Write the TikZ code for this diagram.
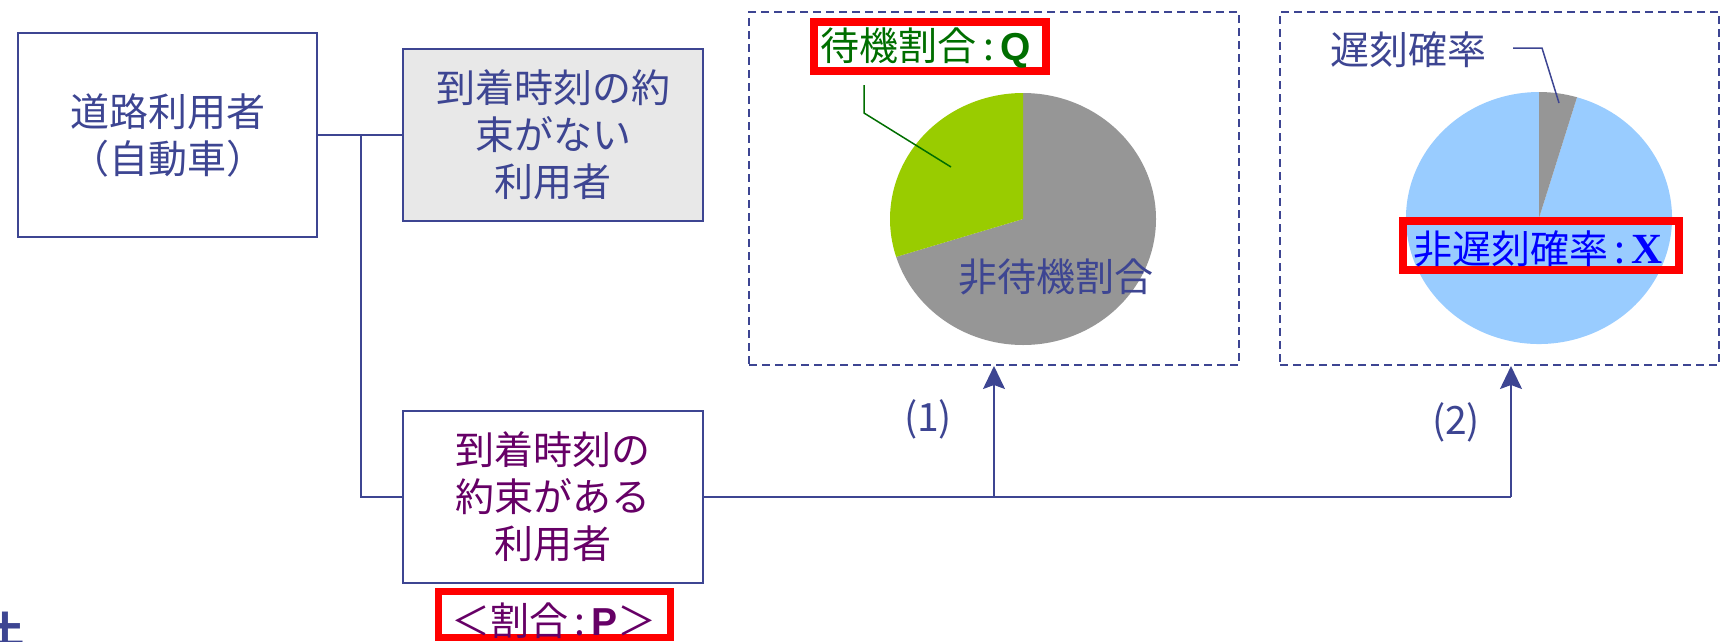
\documentclass[tikz,border=0pt]{standalone}
\usepackage{fontspec}
\setmainfont{Noto Sans CJK JP}
\newfontfamily\lsans{Liberation Sans}
\newfontfamily\lserif{Liberation Serif}
\usetikzlibrary{arrows.meta}
\definecolor{navy}{HTML}{3D4592}
\definecolor{dgreen}{HTML}{006E00}
\definecolor{purp}{HTML}{660066}
\definecolor{pgreen}{HTML}{99CC00}
\definecolor{pgray}{HTML}{969696}
\definecolor{pblue}{HTML}{99CCFF}
\definecolor{lgray}{HTML}{E8E8E8}
\definecolor{xblue}{HTML}{0000FF}
\newcommand{\fsz}{\fontsize{39}{47}\selectfont}
\begin{document}
\begin{tikzpicture}[x=1pt,y=-1pt,
  box/.style={draw=navy,line width=2pt,inner sep=0pt,align=center,font=\fsz,text=navy},
  dbox/.style={draw=navy,line width=2pt,dash pattern=on 8pt off 5pt,inner sep=0pt},
  redbox/.style={draw=red,line width=7.5pt},
  link/.style={draw=navy,line width=1.6pt},
  blink/.style={draw=navy,line width=2.6pt},
  arr/.style={-{Stealth[length=23pt,width=22pt,inset=4pt]},draw=navy,line width=1.6pt},
  lbl/.style={inner sep=0pt,font=\fsz}]
\useasboundingbox (0,0) rectangle (1722,641);

% boxes
\node[box,minimum width=299pt,minimum height=204pt] (user) at (167.5,135) {道路利用者\\（自動車）};
\node[box,fill=lgray,minimum width=300pt,minimum height=172pt] (nores) at (553,135) {到着時刻の約\\束がない\\利用者};
\node[box,text=purp,minimum width=300pt,minimum height=172pt] (res) at (553,497) {到着時刻の\\約束がある\\利用者};

% P label
\draw[redbox] (438.5,591.5) rectangle (670.5,637.5);
\node[lbl,text=purp] (plab) at (554,621) {＜割合\,:\,{\lsans\bfseries P}＞};

% dashed frames
\node[dbox,minimum width=490pt,minimum height=353pt] (d1) at (994,188.5) {};
\node[dbox,minimum width=439pt,minimum height=353pt] (d2) at (1499.5,188.5) {};

% connectors
\coordinate (k) at (361,135);
\draw[blink] (user.east) -- (k);
\draw[link] (k) -- (nores.west);
\draw[link] (k) -- (k |- res.west) -- (res.west);
\coordinate (j1) at (994,497);
\coordinate (j2) at (1511,497);
\draw[blink] (res.east) -- (j1);
\draw[link] (j1) -- (j2);
\draw[arr] (j1) -- (d1.south);
\draw[arr] (j2) -- (j2 |- d2.south);
\node[lbl,text=navy] (l1) at (928,419) {(1)};
\node[lbl,text=navy] (l2) at (1456,422) {(2)};

% pie 1
\begin{scope}[shift={(1023,219)},yscale=-1]
  \fill[pgray] (0,0) -- (90:133 and 126) arc[start angle=90,end angle=-162.5,x radius=133,y radius=126] -- cycle;
  \fill[pgreen] (0,0) -- (90:133 and 126) arc[start angle=90,end angle=197.5,x radius=133,y radius=126] -- cycle;
\end{scope}
\draw[redbox] (814,22) rectangle (1046,71);
\node[lbl,text=dgreen] (qlab) at (926,48) {待機割合\,:\,{\lsans\bfseries Q}};
\coordinate (q1) at (864,85);
\coordinate (q2) at (864,113);
\coordinate (q3) at (951,167);
\draw[dgreen,line width=1.5pt] (q1) -- (q2) -- (q3);
\node[lbl,text=navy] (nw) at (1056,277) {非待機割合};

% pie 2
\begin{scope}[shift={(1539,218)},yscale=-1]
  \fill[pblue] (0,0) -- (73.4:133 and 126) arc[start angle=73.4,end angle=-270,x radius=133,y radius=126] -- cycle;
  \fill[pgray] (0,0) -- (73.4:133 and 126) arc[start angle=73.4,end angle=90,x radius=133,y radius=126] -- cycle;
\end{scope}
\node[lbl,text=navy] (late) at (1408,50) {遅刻確率};
\coordinate (r1) at (1513,48);
\coordinate (r2) at (1542,48);
\coordinate (r3) at (1559,103);
\draw[navy,line width=1.5pt] (r1) -- (r2) -- (r3);
\draw[redbox] (1403,221) rectangle (1679,270);
\node[lbl,text=xblue] (xlab) at (1538,249) {非遅刻確率\,:\,{\lserif\bfseries\fontsize{43}{43}\selectfont X}};

% clipped character at bottom left
\node[inner sep=0pt,text=navy,font=\fontsize{38}{38}\selectfont\bfseries] (cut) at (6,629) {土};
\end{tikzpicture}
\end{document}
